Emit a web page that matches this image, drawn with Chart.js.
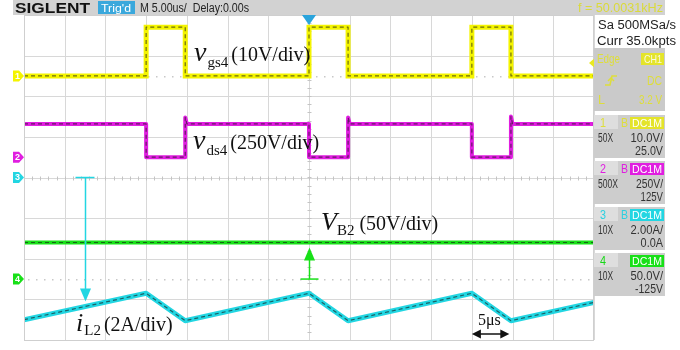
<!DOCTYPE html>
<html>
<head>
<meta charset="utf-8">
<script src="https://cdn.jsdelivr.net/npm/chart.js@4/dist/chart.umd.min.js"></script>
<style>
  html, body { margin: 0; padding: 0; background: #fff; }
  #wrap { width: 680px; height: 350px; position: relative; }
</style>
</head>
<body>
<div id="wrap"><canvas id="scope" width="680" height="350"></canvas></div>
<script>
// ---- Timebase: 5 us/div, 14 divisions, trigger at t = 0 ----
const timeMin = -35;
const timeMax = 35;
const timePerDiv = 5;

// ---- Channel settings (vertical scale per division and offset) ----
const chNames   = ['1', '2', '3', '4'];
const chPerDiv  = [10, 250, 2, 50];
const chOffset  = [25, 125, 0, -125];
const chProbe   = ['50X', '500X', '10X', '10X'];
const chScaleTx = ['10.0V/', '250V/', '2.00A/', '50.0V/'];
const chOffTx   = ['25.0V', '125V', '0.0A', '-125V'];
const chBw      = ['B', 'B', 'B', ''];

// ---- CH1: gate-source voltage vgs4 (V), level after each transition ----
const vgsTimes = [-35, -20, -15.2, 0, 4.8, 20, 24.8, 35];
const vgsVolts = [0, 12, 0, 12, 0, 12, 0, 0];

// ---- CH2: drain-source voltage vds4 (V), with turn-off overshoot ----
const vdsTimes = [-35, -20, -20, -15.2, -15.2, -15.0, 0, 0, 4.8, 4.8, 5.0, 20, 20, 24.8, 24.8, 25.0, 35];
const vdsVolts = [205, 205, 0, 0, 245, 205, 205, 0, 0, 245, 205, 205, 0, 0, 250, 205, 205];

// ---- CH3: inductor current iL2 (A) ----
const iL2Times = [-35, -20, -15.2, 0, 4.8, 20, 24.8, 35];
const iL2Amps  = [-7.0, -5.7, -7.05, -5.7, -7.05, -5.7, -7.05, -6.15];

// ---- CH4: bus voltage VB2 (V) ----
const vb2Times = [-35, 35];
const vb2Volts = [45, 45];

// ---- Trigger ----
const trigLevel = 3.2;   // V on CH1
const trigTime = 0;

const traceColors = ['#f4f400', '#e01ee0', '#22d6e2', '#18e018'];
const uiColors    = ['#dede3a', '#e01ee0', '#2ad0e0', '#18d818'];

const pts = (xs, ys) => xs.map((x, i) => ({ x, y: ys[i] }));

function axisFor(i) {
  const centre = -chOffset[i];
  return { type: 'linear', display: false,
           min: centre - 4 * chPerDiv[i], max: centre + 4 * chPerDiv[i] };
}

function trace(data, axis, color, width, stepped, join) {
  return { data, yAxisID: axis, borderColor: color, borderWidth: width,
           pointRadius: 0, showLine: true, stepped: !!stepped, order: 1,
           borderJoinStyle: join || 'miter' };
}
function texture(data, axis, stepped) {
  return { data, yAxisID: axis, borderColor: 'rgba(20,20,20,0.6)', borderWidth: 1.2,
           borderDash: [4, 3], pointRadius: 0, showLine: true, stepped: !!stepped, order: 0,
           borderJoinStyle: 'round' };
}

const vgsData = pts(vgsTimes, vgsVolts);
const vdsData = pts(vdsTimes, vdsVolts);
const iL2Data = pts(iL2Times, iL2Amps);
const vb2Data = pts(vb2Times, vb2Volts);

function valueAt(xs, ys, t) {
  for (let i = 1; i < xs.length; i++) {
    if (t <= xs[i]) {
      const f = (t - xs[i - 1]) / (xs[i] - xs[i - 1]);
      return ys[i - 1] + f * (ys[i] - ys[i - 1]);
    }
  }
  return ys[ys.length - 1];
}

// text drawn to a fixed width (scope UI fonts are slightly condensed)
function fitText(ctx, text, x, y, font, color, width, align) {
  ctx.save();
  ctx.font = font;
  ctx.fillStyle = color;
  ctx.textBaseline = 'alphabetic';
  const w = ctx.measureText(text).width;
  const s = width ? width / w : 1;
  const left = align === 'right' ? x - w * s : x;
  ctx.translate(left, y);
  ctx.scale(s, 1);
  ctx.textAlign = 'left';
  ctx.fillText(text, 0, 0);
  ctx.restore();
}

function richLabel(ctx, x, baseline, parts) {
  ctx.save();
  ctx.fillStyle = '#111';
  ctx.textBaseline = 'alphabetic';
  ctx.textAlign = 'left';
  for (const p of parts) {
    x += p.gap || 0;
    ctx.font = p.font;
    ctx.fillText(p.t, x, baseline + (p.dy || 0));
    x += ctx.measureText(p.t).width;
  }
  ctx.restore();
}

function arrowHead(ctx, x, y, dx, dy, len, half) {
  // tip at (x,y), pointing along (dx,dy)
  const px = -dy, py = dx;
  ctx.beginPath();
  ctx.moveTo(x, y);
  ctx.lineTo(x - dx * len + px * half, y - dy * len + py * half);
  ctx.lineTo(x - dx * len - px * half, y - dy * len - py * half);
  ctx.closePath();
  ctx.fill();
}

const scopeScreen = {
  id: 'scopeScreen',
  beforeDatasetsDraw(chart) {
    const { ctx, chartArea: a, scales } = chart;
    const xs = scales.x, yg = scales.y3;
    ctx.save();
    ctx.fillStyle = '#fff';
    ctx.fillRect(0, 0, chart.width, chart.height);

    // graticule
    ctx.strokeStyle = '#d8d8d8';
    ctx.lineWidth = 1;
    for (let t = timeMin; t <= timeMax + 1e-9; t += timePerDiv) {
      const px = Math.round(xs.getPixelForValue(t)) + 0.5;
      ctx.beginPath(); ctx.moveTo(px, a.top); ctx.lineTo(px, a.bottom); ctx.stroke();
    }
    for (let k = -4; k <= 4; k++) {
      const py = Math.round(yg.getPixelForValue(k * chPerDiv[2])) + 0.5;
      ctx.beginPath(); ctx.moveTo(a.left, py); ctx.lineTo(a.right, py); ctx.stroke();
    }
    // minor ticks on the centre lines
    ctx.strokeStyle = '#c4c4c4';
    const cx = Math.round(xs.getPixelForValue(0)) + 0.5;
    const cy = Math.round(yg.getPixelForValue(0)) + 0.5;
    for (let t = timeMin; t <= timeMax; t += timePerDiv / 5) {
      const px = Math.round(xs.getPixelForValue(t)) + 0.5;
      ctx.beginPath(); ctx.moveTo(px, cy - 2); ctx.lineTo(px, cy + 2); ctx.stroke();
    }
    for (let v = -8; v <= 8; v += 0.4) {
      const py = Math.round(yg.getPixelForValue(v)) + 0.5;
      ctx.beginPath(); ctx.moveTo(cx - 2, py); ctx.lineTo(cx + 2, py); ctx.stroke();
    }
    // dotted ground references of CH1 and CH4
    ctx.fillStyle = '#c8c8c8';
    [['y1', 0], ['y4', 0]].forEach(([id, v]) => {
      const py = Math.round(scales[id].getPixelForValue(v));
      for (let px = a.left + 4; px < a.right; px += 8) ctx.fillRect(px, py, 1.5, 1.5);
    });
    ctx.restore();
  },
  afterDatasetsDraw(chart) {
    const { ctx, chartArea: a, scales } = chart;
    const xs = scales.x;
    ctx.save();

    // frame
    ctx.strokeStyle = '#cfcfcf';
    ctx.lineWidth = 1;
    ctx.strokeRect(a.left + 0.5, a.top + 0.5, a.right - a.left - 1, a.bottom - a.top);

    // iL2 offset arrow: from zero-current level down to the trace
    const tA = -27.5;
    const xA = Math.round(xs.getPixelForValue(tA)) + 0.5;
    const yZero = scales.y3.getPixelForValue(0);
    const yTip = scales.y3.getPixelForValue(valueAt(iL2Times, iL2Amps, tA)) - 5;
    ctx.strokeStyle = ctx.fillStyle = '#22d6e2';
    ctx.lineWidth = 1.5;
    ctx.beginPath(); ctx.moveTo(xA - 10, yZero); ctx.lineTo(xA + 9, yZero); ctx.stroke();
    ctx.beginPath(); ctx.moveTo(xA, yZero); ctx.lineTo(xA, yTip - 10); ctx.stroke();
    arrowHead(ctx, xA, yTip, 0, 1, 13, 5.5);

    // VB2 arrow: from CH4 ground up to the bus voltage trace
    const xB = Math.round(xs.getPixelForValue(0)) + 0.5;
    const yG = scales.y4.getPixelForValue(0);
    const yB = scales.y4.getPixelForValue(vb2Volts[0]) + 5;
    ctx.strokeStyle = ctx.fillStyle = '#18e018';
    ctx.beginPath(); ctx.moveTo(xB - 9, yG); ctx.lineTo(xB + 9, yG); ctx.stroke();
    ctx.beginPath(); ctx.moveTo(xB, yG); ctx.lineTo(xB, yB + 10); ctx.stroke();
    arrowHead(ctx, xB, yB, 0, -1, 13, 5.5);

    // 5 us marker
    const x5a = xs.getPixelForValue(20), x5b = xs.getPixelForValue(24.6);
    const y5 = 334;
    ctx.strokeStyle = ctx.fillStyle = '#111';
    ctx.lineWidth = 1.5;
    ctx.beginPath(); ctx.moveTo(x5a + 6, y5); ctx.lineTo(x5b - 6, y5); ctx.stroke();
    arrowHead(ctx, x5a, y5, -1, 0, 9, 4.5);
    arrowHead(ctx, x5b, y5, 1, 0, 9, 4.5);
    richLabel(ctx, 478, 325, [{ t: '5μs', font: '16px "Liberation Serif"' }]);

    // trace labels
    const serif = '"Liberation Serif", "DejaVu Serif", serif';
    richLabel(ctx, 194, 61, [
      { t: 'v', font: 'italic 28px ' + serif },
      { t: 'gs4', font: '15px ' + serif, dy: 6, gap: 1 },
      { t: '(10V/div)', font: '20px ' + serif, gap: 3 }]);
    richLabel(ctx, 193, 149, [
      { t: 'v', font: 'italic 28px ' + serif },
      { t: 'ds4', font: '15px ' + serif, dy: 6, gap: 1 },
      { t: '(250V/div)', font: '20px ' + serif, gap: 3 }]);
    richLabel(ctx, 321, 230, [
      { t: 'V', font: 'italic 26px ' + serif },
      { t: 'B2', font: '15px ' + serif, dy: 5, gap: 0 },
      { t: '(50V/div)', font: '20px ' + serif, gap: 5 }]);
    richLabel(ctx, 76, 331, [
      { t: 'i', font: 'italic 26px ' + serif },
      { t: 'L2', font: '15px ' + serif, dy: 4, gap: 1 },
      { t: '(2A/div)', font: '20px ' + serif, gap: 3 }]);
    ctx.restore();
  },
  afterDraw(chart) {
    const { ctx, chartArea: a, scales } = chart;
    const sans = '"Liberation Sans", Arial, sans-serif';
    ctx.save();

    // channel ground markers on the left edge
    ['y1', 'y2', 'y3', 'y4'].forEach((id, i) => {
      const py = scales[id].getPixelForValue(0);
      ctx.fillStyle = traceColors[i];
      ctx.beginPath();
      ctx.moveTo(13, py - 5.5); ctx.lineTo(19, py - 5.5); ctx.lineTo(24, py);
      ctx.lineTo(19, py + 5.5); ctx.lineTo(13, py + 5.5); ctx.closePath(); ctx.fill();
      ctx.fillStyle = '#fff';
      ctx.font = 'bold 9px ' + sans;
      ctx.textAlign = 'center'; ctx.textBaseline = 'middle';
      ctx.fillText(chNames[i], 17.5, py + 0.5);
    });

    // trigger position marker
    const tx = scales.x.getPixelForValue(trigTime);
    ctx.fillStyle = '#2aa4dc';
    ctx.beginPath(); ctx.moveTo(tx - 7, a.top); ctx.lineTo(tx + 7, a.top); ctx.lineTo(tx, a.top + 10); ctx.closePath(); ctx.fill();

    // trigger level marker
    const ty = scales.y1.getPixelForValue(trigLevel);
    ctx.fillStyle = '#eaea20';
    ctx.beginPath(); ctx.moveTo(a.right - 5, ty); ctx.lineTo(a.right + 2, ty - 6); ctx.lineTo(a.right + 2, ty + 6); ctx.closePath(); ctx.fill();

    // top status bar
    ctx.fillStyle = '#d2d2d2';
    ctx.fillRect(13, 0, 652, 15);
    fitText(ctx, 'SIGLENT', 15, 13, 'bold 14px ' + sans, '#111', 75);
    ctx.fillStyle = '#3aa8dc';
    ctx.fillRect(98, 1, 37, 13);
    fitText(ctx, "Trig'd", 101, 12, '11px ' + sans, '#fff', 30);
    fitText(ctx, 'M 5.00us/  Delay:0.00s', 140, 12, '12px ' + sans, '#222', 109);
    fitText(ctx, 'f = 50.0031kHz', 578, 12, '12px ' + sans, '#dada3a', 85);

    // acquisition info
    fitText(ctx, 'Sa 500MSa/s', 598, 29, '12px ' + sans, '#222', 78);
    fitText(ctx, 'Curr 35.0kpts', 597, 45, '12px ' + sans, '#222', 79);

    // trigger box
    const yl = uiColors[0];
    ctx.fillStyle = '#cacaca';
    ctx.fillRect(594, 48, 71, 63);
    fitText(ctx, 'Edge', 597, 63, '12px ' + sans, yl, 23);
    ctx.fillStyle = '#e4e42a';
    ctx.fillRect(641, 53, 23, 12);
    fitText(ctx, 'CH1', 644, 63, '11px ' + sans, '#fafae0', 18);
    ctx.strokeStyle = yl; ctx.lineWidth = 1.5;
    ctx.beginPath(); ctx.moveTo(605, 85); ctx.lineTo(610, 85); ctx.lineTo(612, 76); ctx.lineTo(617, 76); ctx.stroke();
    ctx.beginPath(); ctx.moveTo(608, 81); ctx.lineTo(611, 78); ctx.lineTo(614, 81); ctx.stroke();
    fitText(ctx, 'DC', 662, 85, '12px ' + sans, yl, 15, 'right');
    fitText(ctx, 'L', 598, 104, '12px ' + sans, yl, 7);
    fitText(ctx, '3.2 V', 662, 104, '12px ' + sans, yl, 23, 'right');

    // channel boxes
    const tops = [115, 161, 207, 253];
    tops.forEach((top, i) => {
      const c = uiColors[i];
      ctx.fillStyle = '#cdcdcd';
      ctx.fillRect(594, top, 71, 43);
      ctx.fillStyle = '#dedede';
      ctx.fillRect(594, top, 24, 14);
      fitText(ctx, chNames[i], 600, top + 12, '12px ' + sans, c, 6);
      if (chBw[i]) fitText(ctx, chBw[i], 621, top + 12, '12px ' + sans, c, 7);
      ctx.fillStyle = i === 0 ? '#e4e42a' : traceColors[i];
      ctx.fillRect(630, top + 2, 34, 12);
      fitText(ctx, 'DC1M', 632, top + 12, '11px ' + sans, '#fff', 30);
      fitText(ctx, chProbe[i], 598, top + 27, '12px ' + sans, '#333', chProbe[i].length * 5);
      fitText(ctx, chScaleTx[i], 663, top + 27, '12px ' + sans, '#333', chScaleTx[i].length * 5.4, 'right');
      fitText(ctx, chOffTx[i], 663, top + 40, '12px ' + sans, '#333', chOffTx[i].length * 5.6, 'right');
    });
    ctx.restore();
  }
};

new Chart(document.getElementById('scope'), {
  type: 'scatter',
  data: {
    datasets: [
      trace(vgsData, 'y1', traceColors[0], 5, true),
      texture(vgsData, 'y1', true),
      trace(vdsData, 'y2', traceColors[1], 4, false, 'round'),
      texture(vdsData, 'y2'),
      trace(iL2Data, 'y3', traceColors[2], 5, false, 'round'),
      texture(iL2Data, 'y3'),
      trace(vb2Data, 'y4', traceColors[3], 4),
      texture(vb2Data, 'y4')
    ]
  },
  options: {
    responsive: false,
    animation: false,
    events: [],
    layout: { padding: { left: 24, top: 15, right: 86, bottom: 10 } },
    plugins: { legend: { display: false }, tooltip: { enabled: false } },
    scales: {
      x: { type: 'linear', display: false, min: timeMin, max: timeMax },
      y1: axisFor(0), y2: axisFor(1), y3: axisFor(2), y4: axisFor(3)
    }
  },
  plugins: [scopeScreen]
});
</script>
</body>
</html>
